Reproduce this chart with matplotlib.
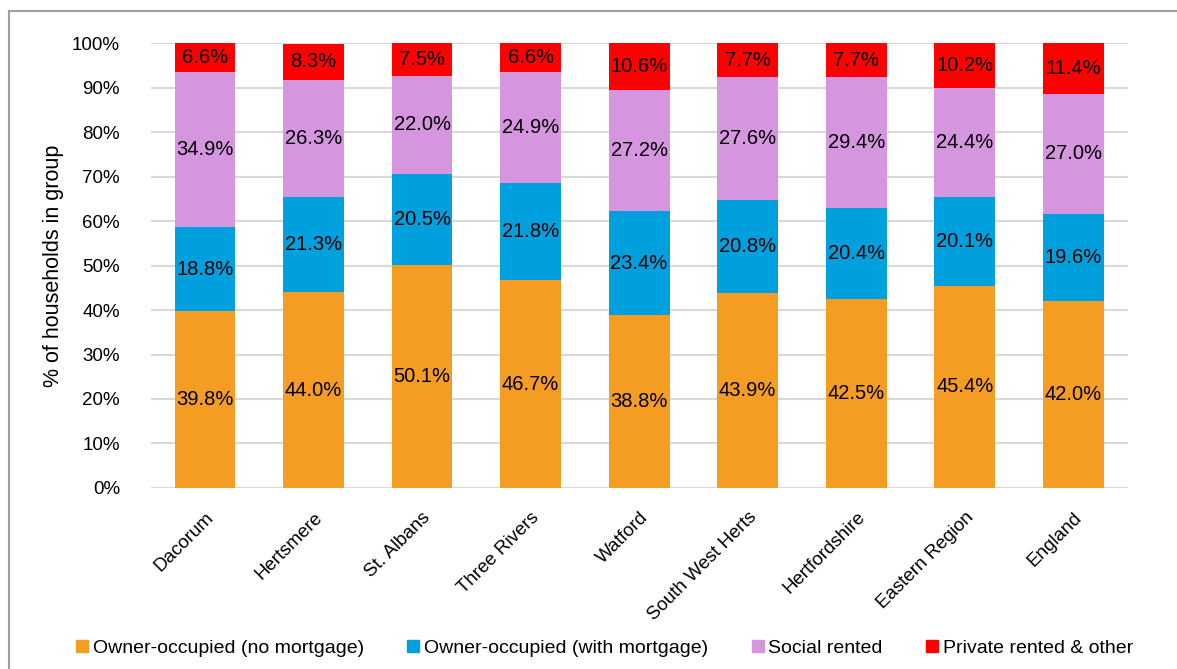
import matplotlib.pyplot as plt
import matplotlib.ticker as mticker
from matplotlib.lines import Line2D
import numpy as np

plt.rcParams['font.family'] = ['Liberation Sans', 'DejaVu Sans']

areas = ['Dacorum', 'Hertsmere', 'St. Albans', 'Three Rivers', 'Watford',
         'South West Herts', 'Hertfordshire', 'Eastern Region', 'England']

no_mortgage = [39.8, 44.0, 50.1, 46.7, 38.8, 43.9, 42.5, 45.4, 42.0]
with_mortgage = [18.8, 21.3, 20.5, 21.8, 23.4, 20.8, 20.4, 20.1, 19.6]
social_rented = [34.9, 26.3, 22.0, 24.9, 27.2, 27.6, 29.4, 24.4, 27.0]
private_rented = [6.6, 8.3, 7.5, 6.6, 10.6, 7.7, 7.7, 10.2, 11.4]

series = {
    'Owner-occupied (no mortgage)': no_mortgage,
    'Owner-occupied (with mortgage)': with_mortgage,
    'Social rented': social_rented,
    'Private rented & other': private_rented,
}
colors = ['#F59C23', '#009FDD', '#D596DF', '#FF0000']

fig = plt.figure(figsize=(11.77, 6.69), dpi=100)
ax = fig.add_axes([0.128, 0.2706, 0.83, 0.665])

x = np.arange(len(areas))
bottom = np.zeros(len(areas))
handles = []
for (label, vals), col in zip(series.items(), colors):
    vals = np.array(vals) / 100.0
    ax.bar(x, vals, width=0.56, bottom=bottom, color=col, zorder=3)
    for xi, b, v in zip(x, bottom, vals):
        top = min(b + v, 1.0)
        ax.text(xi, (b + top) / 2, f'{v * 100:.1f}%', ha='center', va='center',
                fontsize=14.5, color='black', zorder=4)
    bottom += vals
    handles.append(Line2D([], [], marker='s', linestyle='none', markersize=9,
                          markerfacecolor=col, markeredgecolor=col, label=label))

ax.set_ylim(0, 1.0)
ax.set_xlim(-0.5, len(areas) - 0.5)
ax.yaxis.set_major_locator(mticker.MultipleLocator(0.1))
ax.yaxis.set_major_formatter(mticker.PercentFormatter(1.0, decimals=0))
ax.grid(axis='y', color='#d9d9d9', linewidth=1.5, zorder=0)
ax.set_axisbelow(True)
for s in ax.spines.values():
    s.set_visible(False)
ax.tick_params(axis='y', length=0, labelsize=13.5, pad=22)
ax.tick_params(axis='x', length=0, labelsize=13.5, pad=15)
ax.set_xticks(x)
ax.set_xticklabels(areas, rotation=45, ha='right', va='top', rotation_mode='anchor')
ax.set_ylabel('% of households in group', fontsize=15.5, labelpad=6)

fig.legend(handles=handles, loc='center', bbox_to_anchor=(0.513, 0.031), ncol=4,
           frameon=False, fontsize=14, handletextpad=0.15, columnspacing=2.15,
           handlelength=0.8, borderaxespad=0)

# outer chart frame
fig.add_artist(Line2D([9 / 1177, 1.0], [1 - 11 / 669, 1 - 11 / 669],
                      transform=fig.transFigure, color='#a0a0a0', linewidth=1.5))
fig.add_artist(Line2D([9 / 1177, 9 / 1177], [0, 1 - 11 / 669],
                      transform=fig.transFigure, color='#a0a0a0', linewidth=1.5))

fig.savefig('out.png', dpi=100)
